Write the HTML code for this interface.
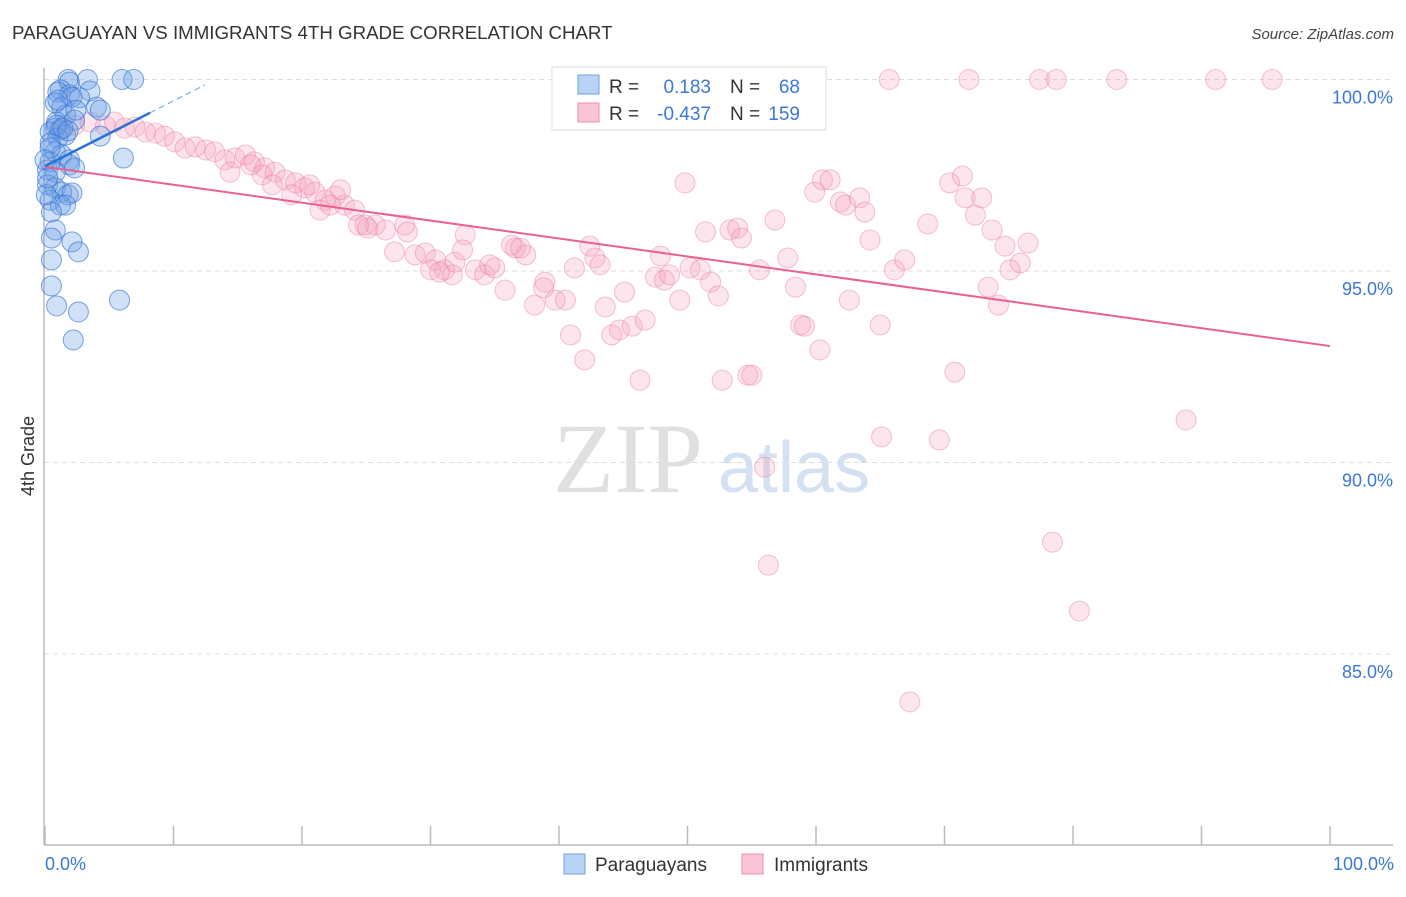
<!DOCTYPE html>
<html><head><meta charset="utf-8"><style>
body{margin:0;background:#fff;font-family:"Liberation Sans",sans-serif;}
</style></head><body>
<svg id="chart" width="1406" height="892" viewBox="0 0 1406 892" xmlns="http://www.w3.org/2000/svg" font-family="Liberation Sans, sans-serif">
<text x="12" y="39" font-size="18.7" fill="#333">PARAGUAYAN VS IMMIGRANTS 4TH GRADE CORRELATION CHART</text>
<text x="1394" y="39" font-size="15" fill="#444" text-anchor="end" font-style="italic">Source: ZipAtlas.com</text>
<g>
<text x="553" y="492" font-size="100" fill="#e0e0e0" style="font-family:'Liberation Serif',serif">ZIP</text>
<text x="718" y="492" font-size="72" fill="#d3e1f3">atlas</text>
</g>
<g id="grid"></g>
<g id="yticks"></g>
<line x1="44" y1="68" x2="44" y2="845" stroke="#bbb" stroke-width="1.5"/>
<line x1="44" y1="845" x2="1393" y2="845" stroke="#bbb" stroke-width="1.5"/>
<g id="xticks"></g>
<text transform="translate(34,456) rotate(-90)" font-size="18" fill="#333" text-anchor="middle">4th Grade</text>
<text x="45" y="870" font-size="18" fill="#3b78d8">0.0%</text>
<text x="1394" y="870" font-size="18" fill="#3b78d8" text-anchor="end">100.0%</text>
<g id="pink"></g>
<g id="blue"></g>
<g id="trends"></g>
<g>
<rect x="552" y="67" width="274" height="63" fill="#fff" stroke="#ddd"/>
<rect x="578" y="75" width="21" height="19" fill="#b9d3f5" stroke="#6fa0e0"/>
<rect x="578" y="103" width="21" height="19" fill="#f9c5d5" stroke="#ee8fb0"/>
<text x="609" y="93" font-size="19" fill="#333">R =</text>
<text x="711" y="93" font-size="19" fill="#3b78d8" text-anchor="end">0.183</text>
<text x="730" y="93" font-size="19" fill="#333">N =</text>
<text x="800" y="93" font-size="19" fill="#3b78d8" text-anchor="end">68</text>
<text x="609" y="120" font-size="19" fill="#333">R =</text>
<text x="711" y="120" font-size="19" fill="#3b78d8" text-anchor="end">-0.437</text>
<text x="730" y="120" font-size="19" fill="#333">N =</text>
<text x="800" y="120" font-size="19" fill="#3b78d8" text-anchor="end">159</text>
</g>
<g>
<g>
<rect x="564" y="854" width="21" height="20" fill="#b9d3f5" stroke="#6fa0e0"/>
<text x="595" y="871" font-size="19" fill="#333">Paraguayans</text></g>
<g>
<rect x="742" y="854" width="21" height="20" fill="#f9c5d5" stroke="#ee8fb0"/>
<text x="774" y="871" font-size="19" fill="#333">Immigrants</text></g>
</g>
</svg>
<script>
const yTicks=[100,95,90,85];
const yTickLabels=["100.0%","95.0%","90.0%","85.0%"];
const xTicks=[0,10,20,30,40,50,60,70,80,90,100];
const pinkX=[65.7,71.9,77.4,78.7,83.4,91.1,95.5,1.2,2.3,3.5,4.7,5.4,6.2,7.0,7.8,8.6,9.3,10.1,10.9,11.7,12.5,13.2,14.0,14.8,15.6,16.3,17.1,17.9,18.7,19.5,20.2,21.0,21.8,22.6,23.3,24.1,24.9,25.7,26.5,27.2,28.0,28.8,29.6,30.4,31.1,31.9,32.7,33.5,34.2,35.0,35.8,36.6,37.4,38.1,38.9,39.7,40.5,40.9,41.2,42.0,42.4,42.8,43.2,43.6,44.1,44.7,45.1,45.7,46.3,46.7,47.9,47.5,48.2,48.6,49.4,49.8,50.2,51.0,51.4,51.8,52.4,52.7,53.3,53.9,54.2,54.7,55.0,55.6,56.0,56.3,56.8,57.8,58.4,58.8,59.1,59.9,60.3,60.5,61.1,61.9,62.3,62.6,63.4,63.8,64.2,65.0,65.1,66.1,66.9,67.3,68.7,69.6,70.4,70.8,71.4,71.6,72.4,72.9,73.4,73.7,74.2,74.7,75.1,75.9,76.5,78.4,80.5,88.8,14.4,16.0,16.9,17.7,19.2,20.6,21.4,22.2,23.0,24.4,25.1,28.2,30.0,30.7,31.7,32.5,34.6,36.3,37.0,38.8];
const pinkY=[100,100,100,100,100,100,100,98.73,98.81,98.89,98.79,98.89,98.73,98.76,98.63,98.6,98.52,98.37,98.21,98.24,98.16,98.11,97.9,97.95,98.03,97.85,97.69,97.58,97.38,97.3,97.17,97.06,96.85,96.96,96.72,96.59,96.2,96.2,96.07,95.5,96.2,95.42,95.47,95.29,95.03,95.23,95.94,95.03,94.9,95.08,94.5,95.6,95.42,94.11,94.71,94.24,94.24,93.33,95.08,92.68,95.65,95.34,95.16,94.06,93.33,93.46,94.45,93.56,92.15,93.72,95.39,94.84,94.76,94.9,94.24,97.3,95.08,95.03,96.02,94.71,94.35,92.15,96.07,96.12,95.86,92.28,92.28,95.03,89.88,87.32,96.33,95.34,94.58,93.59,93.56,97.06,92.94,97.38,97.38,96.8,96.72,94.24,96.91,96.54,95.81,93.59,90.67,95.03,95.29,83.75,96.23,90.59,97.3,92.36,97.48,96.91,96.46,96.91,94.58,96.07,94.11,95.65,95.03,95.21,95.73,87.92,86.12,91.11,97.58,97.77,97.51,97.25,96.99,97.25,96.59,96.72,97.12,96.2,96.12,96.02,95.03,94.97,94.9,95.55,95.16,95.68,95.6,94.56];
const blueX=[1.8,1.9,3.3,6.0,6.9,1.2,1.0,3.5,1.9,2.1,2.7,0.8,1.3,4.0,4.3,1.6,0.9,2.3,0.8,1.2,0.4,1.6,1.0,4.3,0.4,0.8,1.3,1.9,1.9,6.1,0.4,0.2,0.8,2.3,0.2,0.8,1.3,1.8,2.1,0.4,1.2,1.6,0.5,0.8,0.5,2.1,2.6,0.5,0.5,0.9,2.6,5.8,2.2,0.4,0.0,1.0,2.4,0.1,0.2,0.9,1.4,1.8];
const blueY=[100,99.93,100,100,100,99.73,99.67,99.7,99.6,99.54,99.52,99.39,99.28,99.28,99.2,99.07,98.89,98.94,98.73,98.68,98.63,98.55,98.47,98.52,98.34,98.11,98.03,97.9,97.77,97.95,97.85,97.64,97.58,97.69,97.25,97.17,97.06,96.99,97.04,96.85,96.72,96.72,96.54,96.07,95.86,95.76,95.5,95.29,94.61,94.09,93.93,94.24,93.2,98.21,97.9,99.46,99.2,96.99,97.43,98.81,98.73,98.66];
const pinkTrend=[[0,97.72],[100,93.04]];
const blueTrend=[[0,97.74],[8.17,99.13]];
const blueTrendExt=[[8.17,99.13],[12.45,99.86]];

const X0=45,X1=1330,YTOP=79.5,PPU=38.3;
function sx(v){return X0+v*(X1-X0)/100;}
function sy(v){return YTOP+(100-v)*PPU;}
const NS="http://www.w3.org/2000/svg";
function mk(tag,attrs,parent){const e=document.createElementNS(NS,tag);for(const k in attrs)e.setAttribute(k,attrs[k]);parent.appendChild(e);return e;}
const grid=document.getElementById('grid'),yt=document.getElementById('yticks'),xt=document.getElementById('xticks');
yTicks.forEach((v,i)=>{
 const l=mk('line',{x1:44,x2:1393,y1:sy(v),y2:sy(v),stroke:'#ddd','stroke-dasharray':'5,4'},grid);
 
 
 const t=mk('text',{x:1393,y:sy(v)+24,'font-size':18,fill:'#3b78d8','text-anchor':'end'},yt);
 t.textContent=yTickLabels[i];
 
 
});
xTicks.forEach(v=>{
 const l=mk('line',{x1:sx(v),x2:sx(v),y1:826,y2:845,stroke:'#bbb','stroke-width':1.5},xt);
 
 
});
const pg=document.getElementById('pink'),bg=document.getElementById('blue');
pinkX.forEach((x,i)=>{
 const c=mk('circle',{cx:sx(x),cy:sy(pinkY[i]),r:10,fill:'rgba(246,160,190,0.28)',stroke:'rgba(236,120,160,0.45)','stroke-width':1},pg);
 
 
});
blueX.forEach((x,i)=>{
 const c=mk('circle',{cx:sx(x),cy:sy(blueY[i]),r:10,fill:'rgba(110,160,230,0.32)',stroke:'rgba(50,115,210,0.65)','stroke-width':1},bg);
 
 
});
const tg=document.getElementById('trends');
let a=mk('line',{x1:sx(pinkTrend[0][0]),y1:sy(pinkTrend[0][1]),x2:sx(pinkTrend[1][0]),y2:sy(pinkTrend[1][1]),stroke:'#e8618f','stroke-width':2},tg);


let b=mk('line',{x1:sx(blueTrend[0][0]),y1:sy(blueTrend[0][1]),x2:sx(blueTrend[1][0]),y2:sy(blueTrend[1][1]),stroke:'#2a6fd6','stroke-width':2.5},tg);


let d=mk('line',{x1:sx(blueTrendExt[0][0]),y1:sy(blueTrendExt[0][1]),x2:sx(blueTrendExt[1][0]),y2:sy(blueTrendExt[1][1]),stroke:'#6d9be0','stroke-width':1,'stroke-dasharray':'6,4'},tg);


</script>
</body></html>
